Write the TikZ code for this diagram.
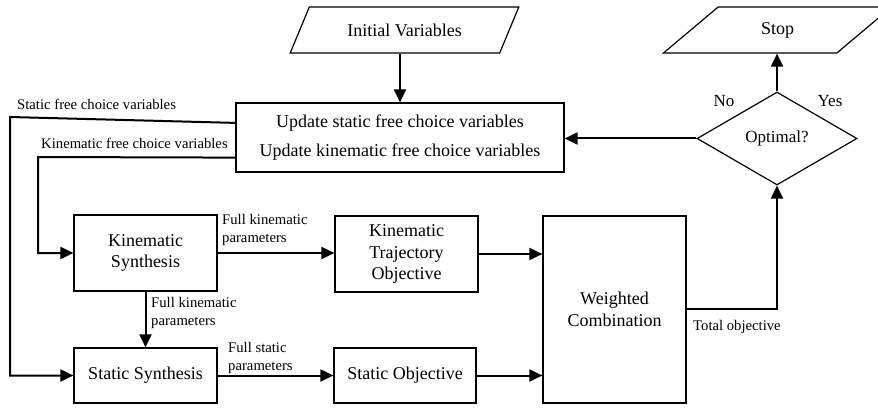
\documentclass[tikz,border=0pt]{standalone}
\usepackage{fontspec}
\setmainfont{Liberation Serif}
\usetikzlibrary{shapes.geometric,arrows.meta}
\begin{document}
\begin{tikzpicture}[x=1pt,y=-1pt,
  box/.style={draw,line width=1.2pt,inner sep=0pt,align=center,font=\fontsize{18}{21.6}\selectfont},
  para/.style={draw,line width=1.2pt,trapezium,trapezium stretches=true,inner sep=0pt,font=\fontsize{18}{21.6}\selectfont},
  dec/.style={draw,line width=1.2pt,diamond,inner sep=0pt,font=\fontsize{17}{20}\selectfont},
  arr/.style={line width=2pt,-{Triangle[length=13pt,width=12pt]}},
  lab/.style={inner sep=0pt,align=left,font=\fontsize{14.7}{17.5}\selectfont},
  yn/.style={inner sep=0pt,font=\fontsize{17}{20}\selectfont}]
\useasboundingbox (0,0) rectangle (878,409);
% nodes
\node[para,minimum width=229pt,minimum height=46pt,trapezium left angle=48,trapezium right angle=132] (init) at (404.5,30) {Initial Variables};
\node[para,minimum width=229pt,minimum height=46pt,trapezium left angle=46,trapezium right angle=134] (stop) at (777.5,30) {Stop};
\node[box,minimum width=328pt,minimum height=69pt] (upd) at (400,137.5) {Update static free choice variables\\[8pt]Update kinematic free choice variables};
\node[dec,minimum width=160pt,minimum height=93pt] (dia) at (777,138.5) {Optimal?};
\node[box,minimum width=143pt,minimum height=76pt] (kin) at (145.5,253) {Kinematic\\Synthesis};
\node[box,minimum width=143pt,minimum height=76pt] (traj) at (406.5,254) {Kinematic\\Trajectory\\Objective};
\node[box,minimum width=143pt,minimum height=55pt] (stat) at (145.5,375.5) {Static Synthesis};
\node[box,minimum width=142pt,minimum height=55pt] (sobj) at (405,375.5) {Static Objective};
\node[box,minimum width=143pt,minimum height=187pt] (wc) at (614.5,309.5) {Weighted\\Combination};
% labels
\node[lab,anchor=west] (l1) at (17,104) {Static free choice variables};
\node[lab,anchor=west] (l2) at (41,143) {Kinematic free choice variables};
\node[lab,anchor=west] (l3) at (222,230) {Full kinematic\\parameters};
\node[lab,anchor=west] (l4) at (151,313) {Full kinematic\\parameters};
\node[lab,anchor=west] (l5) at (228,358) {Full static\\parameters};
\node[lab,anchor=west] (l6) at (693,327) {Total objective};
\node[yn] (no) at (724,101) {No};
\node[yn] (yes) at (830,101) {Yes};
% connectors
\coordinate (sl) at (10,117);
\coordinate (kl) at (38,157);
\draw[arr] (upd.north |- init.south) -- (upd.north);
\draw[arr] (dia.west) -- (dia.west -| upd.east);
\draw[arr] (dia.north) -- (dia.north |- stop.south);
\draw[arr] (wc.east |- 0,309) -| (dia.south);
\draw[arr] ([yshift=-20.5pt]upd.north west) -- (sl) |- (stat.west);
\draw[arr] ([yshift=15pt]upd.south west) -- (kl) |- (kin.west);
\draw[arr] (kin.east) -- (kin.east -| traj.west);
\draw[arr] (traj.east) -- (traj.east -| wc.west);
\draw[arr] (kin.south) -- (kin.south |- stat.north);
\draw[arr] (stat.east) -- (stat.east -| sobj.west);
\draw[arr] (sobj.east) -- (sobj.east -| wc.west);
\end{tikzpicture}
\end{document}
